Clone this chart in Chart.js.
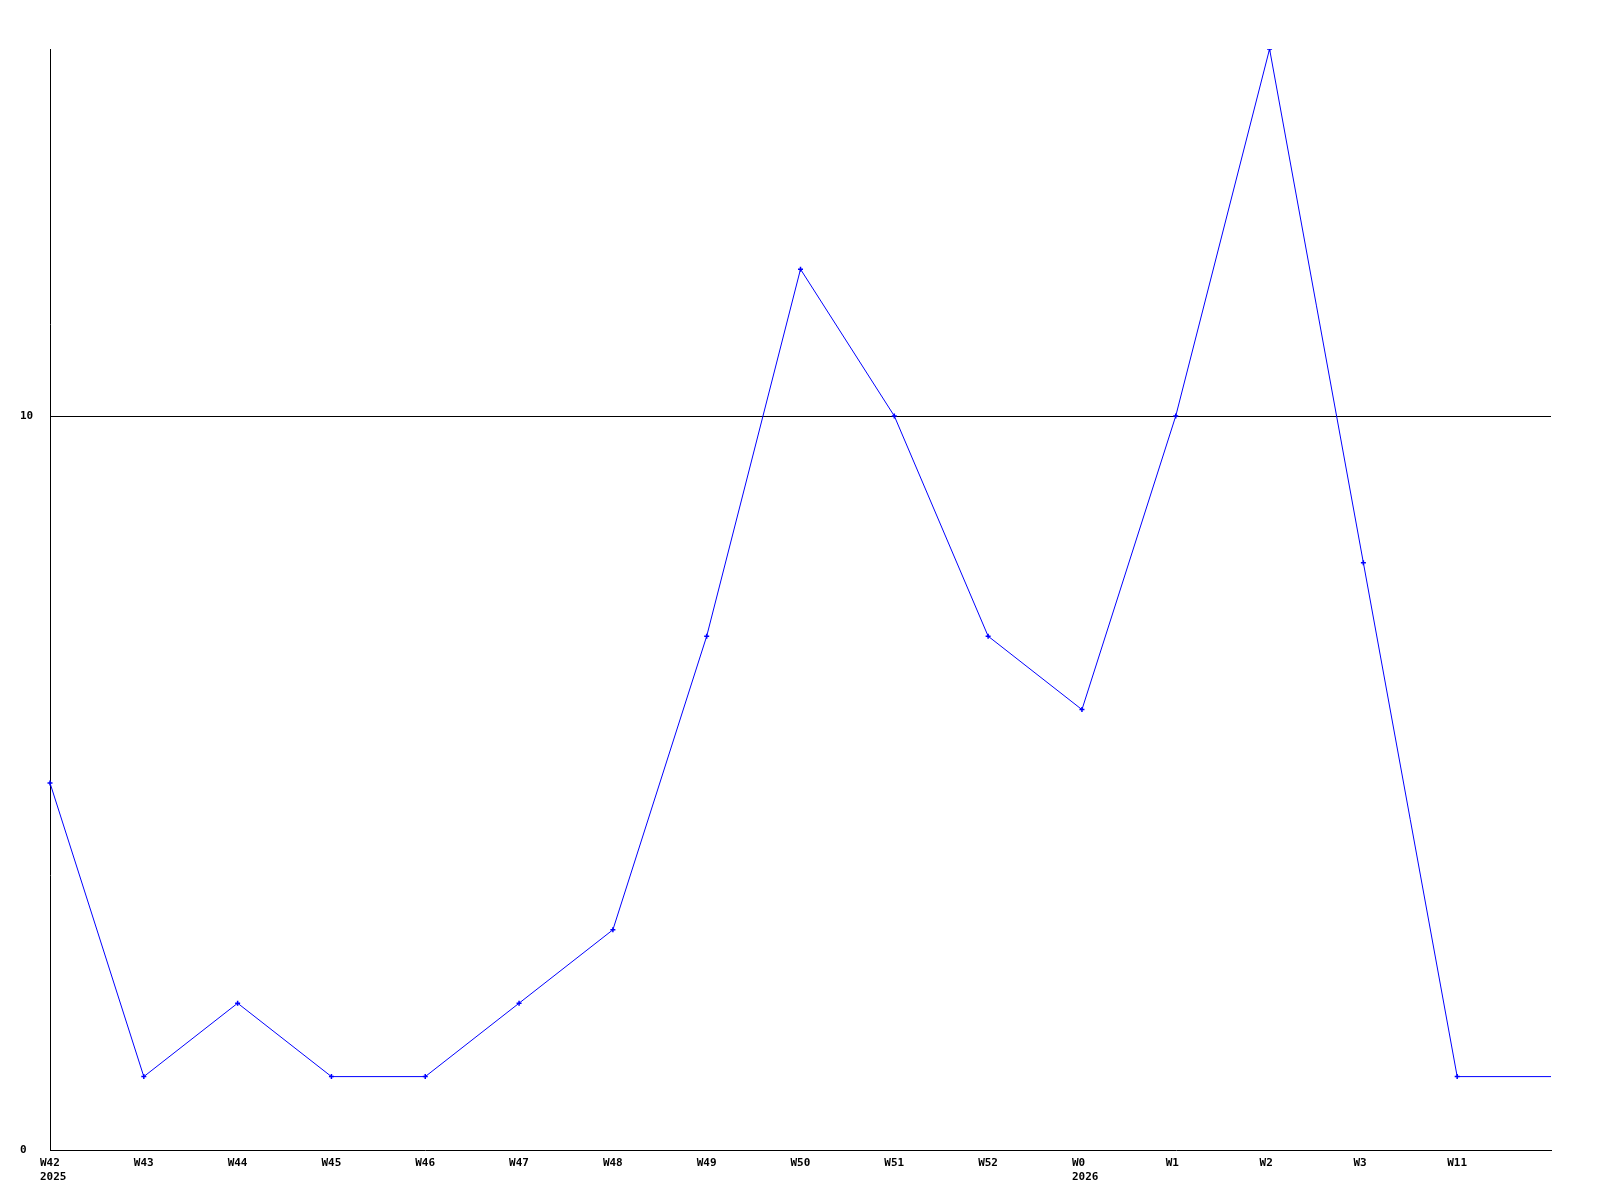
<!DOCTYPE html>
<html>
<head>
<meta charset="utf-8">
<style>
html,body{margin:0;padding:0;background:#fff;}
canvas{display:block;}
</style>
<script src="https://cdn.jsdelivr.net/npm/chart.js@4/dist/chart.umd.min.js"></script>
</head>
<body>
<canvas id="c" width="1600" height="1200"></canvas>
<script>
const weekLabels = [["W42","2025"],"W43","W44","W45","W46","W47","W48","W49","W50","W51","W52",["W0","2026"],"W1","W2","W3","W11",""];
const counts = [5,1,2,1,1,2,3,7,12,10,7,6,10,15,8,1,1];
const yTickLabels = [0,10];
const yMax = 15;

const font = {family:"'DejaVu Sans Mono', monospace", size:11, weight:'bold', lineHeight:1.27};

new Chart(document.getElementById('c'), {
  type:'line',
  data:{
    labels:weekLabels,
    datasets:[{
      data:counts,
      borderColor:'#0000ff',
      backgroundColor:'#0000ff',
      borderWidth:1,
      tension:0,
      pointStyle:'cross',
      pointRadius:counts.map((v,i)=> i===counts.length-1 ? 0 : 2.5),
      pointBorderWidth:1.5,
      pointHoverRadius:0
    }]
  },
  options:{
    responsive:false,
    animation:false,
    devicePixelRatio:1,
    layout:{padding:{left:20,top:49,right:49,bottom:0}},
    plugins:{legend:{display:false},tooltip:{enabled:false}},
    scales:{
      x:{
        offset:false,
        grid:{display:false, drawTicks:false},
        border:{display:true,color:'#000',width:1},
        ticks:{autoSkip:false,maxRotation:0,minRotation:0,color:'#000',font:font,padding:6,align:'start',labelOffset:-10},
        afterFit(s){s.height=50;}
      },
      y:{
        min:0,max:yMax,
        afterBuildTicks(s){s.ticks=[0,10,15].map(v=>({value:v}));},
        grid:{drawTicks:false,color:(ctx)=> ctx.tick && ctx.tick.value===10 ? '#000' : 'rgba(0,0,0,0)',lineWidth:1},
        border:{display:true,color:'#000',width:1},
        ticks:{color:'#000',font:font,crossAlign:'far',padding:0,
          callback:(v)=> yTickLabels.includes(v) ? String(v) : ''},
        afterFit(s){s.width=30;}
      }
    }
  }
});
</script>
</body>
</html>
